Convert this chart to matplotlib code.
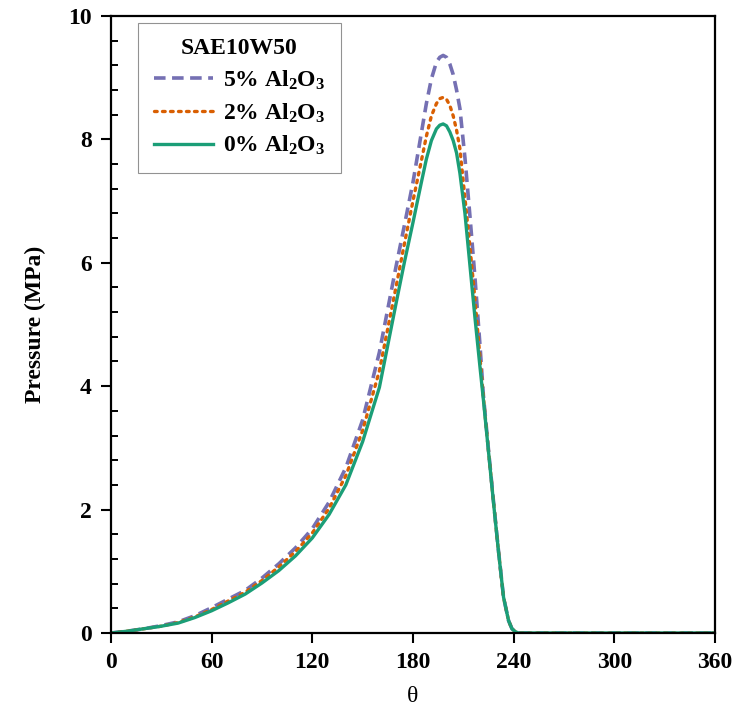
import matplotlib
matplotlib.use('Agg')
import matplotlib.pyplot as plt
from matplotlib.ticker import MultipleLocator

plt.rcParams['font.family'] = ['Liberation Serif', 'DejaVu Serif']
plt.rcParams['font.weight'] = 'bold'
plt.rcParams['mathtext.fontset'] = 'custom'
plt.rcParams['mathtext.rm'] = 'Liberation Serif:bold'
plt.rcParams['mathtext.default'] = 'rm'

# angle (deg) and film pressure (MPa)
theta = [0, 10, 20, 30, 40, 50, 60, 70, 80, 90, 100, 110, 120, 130, 140, 150,
         160, 170, 175, 180, 185, 188, 191, 194, 196, 198, 200, 202, 204, 206,
         208, 211, 214, 217, 220, 222, 225, 228, 231, 234, 237, 239, 241, 243,
         250, 360]

p_5 = [0, 0.03, 0.07, 0.12, 0.18, 0.28, 0.41, 0.55, 0.69, 0.89, 1.12, 1.38, 1.69,
       2.12, 2.68, 3.45, 4.55, 5.95, 6.62, 7.30, 8.10, 8.58, 8.98, 9.25, 9.33,
       9.36, 9.33, 9.22, 9.05, 8.80, 8.50, 7.70, 6.75, 5.75, 4.65, 3.85, 2.98,
       2.14, 1.33, 0.58, 0.20, 0.07, 0.02, 0, 0, 0]

p_2 = [0, 0.03, 0.07, 0.11, 0.17, 0.26, 0.38, 0.52, 0.66, 0.85, 1.07, 1.32, 1.62,
       2.02, 2.55, 3.28, 4.25, 5.62, 6.32, 7.00, 7.65, 8.05, 8.38, 8.58, 8.66,
       8.68, 8.65, 8.55, 8.38, 8.15, 7.85, 7.05, 6.25, 5.40, 4.45, 3.82, 2.96,
       2.13, 1.32, 0.58, 0.20, 0.07, 0.02, 0, 0, 0]

p_0 = [0, 0.03, 0.07, 0.11, 0.16, 0.25, 0.36, 0.49, 0.63, 0.81, 1.01, 1.25, 1.54,
       1.92, 2.40, 3.10, 3.98, 5.35, 6.02, 6.65, 7.30, 7.68, 7.98, 8.17, 8.23,
       8.25, 8.22, 8.12, 7.98, 7.78, 7.45, 6.80, 5.95, 5.10, 4.30, 3.78, 2.95,
       2.12, 1.32, 0.58, 0.20, 0.07, 0.02, 0, 0, 0]

labels = [r'5% Al$_2$O$_3$', r'2% Al$_2$O$_3$', r'0% Al$_2$O$_3$']
x_ticks = [0, 60, 120, 180, 240, 300, 360]

fig = plt.figure(figsize=(7.37, 7.22), dpi=100)
ax = fig.add_axes([0.1506, 0.1233, 0.8194, 0.8546])

ax.plot(theta, p_5, color='#7570b3', lw=2.6, ls=(0, (3.2, 1.8)), label=labels[0])
ax.plot(theta, p_2, color='#d95f02', lw=2.4, ls=(0, (0.8, 1.6)),
        dash_capstyle='round', label=labels[1])
ax.plot(theta, p_0, color='#1b9e77', lw=2.4, label=labels[2])

ax.set_xlim(0, 360)
ax.set_ylim(0, 10)
ax.set_xticks(x_ticks)
ax.yaxis.set_major_locator(MultipleLocator(2))
ax.yaxis.set_minor_locator(MultipleLocator(0.4))

for s in ax.spines.values():
    s.set_linewidth(1.6)

ax.tick_params(axis='both', which='major', direction='out', length=7, width=1.5,
               labelsize=17, pad=7)
ax.tick_params(axis='y', which='minor', direction='in', length=5, width=1.4)

ax.set_xlabel('θ', fontsize=17, fontweight='normal', labelpad=9)
ax.set_ylabel('Pressure (MPa)', fontsize=17, fontweight='bold', labelpad=16)

leg = ax.legend(loc='upper left', bbox_to_anchor=(0.045, 0.989), borderaxespad=0,
                title='SAE10W50', fontsize=17, title_fontsize=17,
                fancybox=False, edgecolor='#777777', handlelength=2.5,
                handletextpad=0.45, labelspacing=0.4, borderpad=0.65,
                alignment='center')
leg.get_frame().set_linewidth(0.8)
leg.get_title().set_fontweight('bold')

fig.savefig('out.png', dpi=100)
